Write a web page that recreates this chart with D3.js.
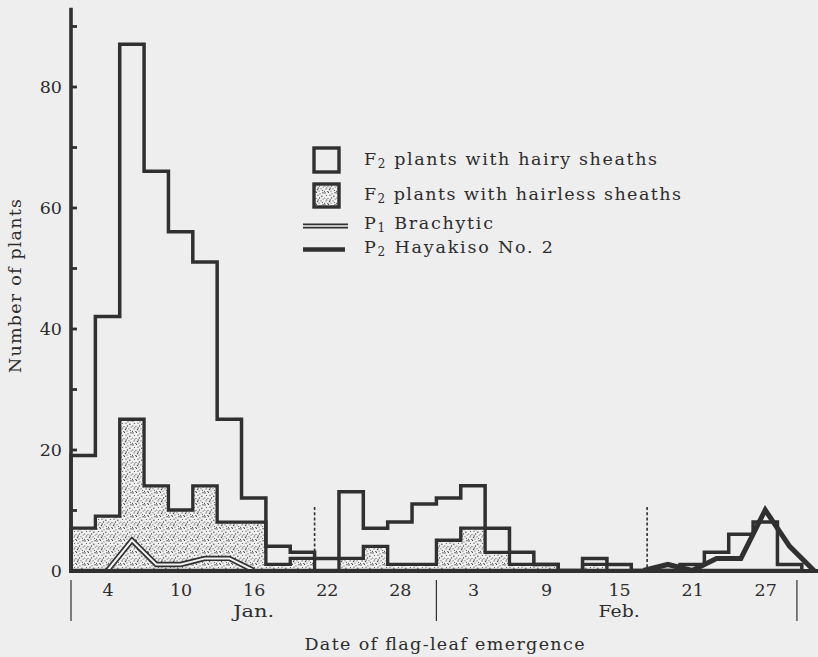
<!DOCTYPE html>
<html><head><meta charset="utf-8">
<script src="https://cdn.jsdelivr.net/npm/d3@7/dist/d3.min.js"></script>
<style>
body{margin:0;background:#eeeeee;}
svg{display:block;font-family:"DejaVu Serif",serif;}
</style>
</head><body>
<svg id="chart" width="818" height="657"></svg>
<script>
// ---------- data ----------
// two-day bins; value = start day counted from Jan 1 (= day 1)
const binStartDays = [1,3,5,7,9,11,13,15,17,19,21,23,25,27,29,31,33,35,37,39,41,43,45,47,49,51,53,55,57,59];
const binWidthDays = 2;
const hairyCounts    = [19,42,87,66,56,51,25,12,4,3,2,13,7,8,11,12,14,7,3,1,0,2,1,0,0,1,3,6,8,1];
const hairlessCounts = [7,9,25,14,10,14,8,8,1,2,0,2,4,1,1,5,7,3,1,1,0,1,0,0,0,0,0,0,0,0];
const p1Days   = [4,6,8,10,12,14,16];
const p1Counts = [0,5,1,1,2,2,0];
const p2Days   = [48,50,52,54,56,58,60,62];
const p2Counts = [0,1,0,2,2,10,4,0];
const tickDays   = [4,10,16,22,28,34,40,46,52,58];
const tickLabels = ["4","10","16","22","28","3","9","15","21","27"];
const monthLabels = ["Jan.","Feb."];
const monthLabelDays = [16,46];
const monthBoundaryDays = [1,31,60.6];
const dashedDays = [21,48.3];
const dashedTop = 10.5;
const yTickValues = [0,10,20,30,40,50,60,70,80,90];
const yLabelValues = [0,20,40,60,80];
const legendLabels = [
  {main:"F", sub:"2", rest:" plants with hairy sheaths", len:293},
  {main:"F", sub:"2", rest:" plants with hairless sheaths", len:317},
  {main:"P", sub:"1", rest:" Brachytic", len:129},
  {main:"P", sub:"2", rest:" Hayakiso No. 2", len:189}
];
const xTitle = "Date of flag-leaf emergence";
const yTitle = "Number of plants";

// ---------- setup ----------
const ink = "#303030", txt = "#2c2c2c", bg = "#eeeeee";
const svg = d3.select("#chart");
svg.append("rect").attr("width",818).attr("height",657).attr("fill",bg);

const x = d3.scaleLinear().domain([1,61]).range([71,801.8]);
const y = d3.scaleLinear().domain([0,90]).range([570.5,26]);

// stipple pattern
const defs = svg.append("defs");
const pat = defs.append("pattern").attr("id","stip").attr("patternUnits","userSpaceOnUse")
  .attr("width",12).attr("height",12);
pat.append("rect").attr("width",12).attr("height",12).attr("fill","#f0f0f0");
const dots = [[1,1],[4.5,0.5],[8,1.8],[11,0.8],[2.5,3.5],[6,3.2],[9.8,4.2],[0.8,6],[4,6.5],[7.5,6],[11.2,7],
              [2,9],[5.5,9.4],[9,8.8],[0.5,11.3],[3.8,11.8],[7,11],[10.5,10.5],[6.2,8],[2.8,7.8]];
dots.forEach((p,i)=>pat.append("circle").attr("cx",p[0]).attr("cy",p[1]).attr("r",i%3===0?0.75:0.6).attr("fill","#4a4a4a"));

function stepPoints(vals){
  const pts=[[binStartDays[0],0]];
  vals.forEach((v,i)=>{pts.push([binStartDays[i],v]);pts.push([binStartDays[i]+binWidthDays,v]);});
  pts.push([binStartDays[binStartDays.length-1]+binWidthDays,0]);
  return pts;
}
const line = d3.line().x(d=>x(d[0])).y(d=>y(d[1]));

// hairless (stippled)
svg.append("path").attr("d",line(stepPoints(hairlessCounts))+"Z")
  .attr("fill","url(#stip)").attr("stroke",ink).attr("stroke-width",3.3).attr("stroke-linejoin","miter");
// hairy outline
svg.append("path").attr("d",line(stepPoints(hairyCounts)))
  .attr("fill","none").attr("stroke",ink).attr("stroke-width",3.5).attr("stroke-linejoin","miter");

// P1 double line
const p1 = p1Days.map((d,i)=>[d,p1Counts[i]]);
svg.append("path").attr("d",line(p1)).attr("fill","none").attr("stroke",ink).attr("stroke-width",5.4);
svg.append("path").attr("d",line(p1)).attr("fill","none").attr("stroke","#f4f4f4").attr("stroke-width",2);

// P2 thick line
const p2 = p2Days.map((d,i)=>[d,p2Counts[i]]);
svg.append("path").attr("d",line(p2)).attr("fill","none").attr("stroke",ink).attr("stroke-width",5).attr("stroke-linejoin","miter");

// dashed lines
svg.selectAll(".dash").data(dashedDays).enter().append("line")
  .attr("x1",d=>x(d)).attr("x2",d=>x(d)).attr("y1",y(dashedTop)).attr("y2",y(0))
  .attr("stroke",ink).attr("stroke-width",1.6).attr("stroke-dasharray","3,2.2");

// y axis
const yAxis = d3.axisLeft(y).tickValues(yTickValues).tickSize(-6).tickSizeOuter(0).tickPadding(9)
  .tickFormat(d=>yLabelValues.includes(d)?d:"");
const gy = svg.append("g").attr("transform","translate(71,0)").call(yAxis);
gy.select(".domain").remove();
gy.selectAll(".tick line").attr("stroke",ink).attr("stroke-width",2.8);
gy.selectAll(".tick text").attr("x",-9).attr("fill",txt).attr("font-size","17.5px").attr("font-family","DejaVu Serif").attr("dy","0.36em");
svg.append("line").attr("x1",71).attr("x2",71).attr("y1",y(93)).attr("y2",y(0)+2)
  .attr("stroke",ink).attr("stroke-width",3.6);

// x axis
const xAxis = d3.axisBottom(x).tickValues(tickDays).tickSize(0).tickPadding(13.5)
  .tickFormat((d,i)=>tickLabels[i]);
const gx = svg.append("g").attr("transform",`translate(0,${y(0)})`).call(xAxis);
gx.select(".domain").remove();
gx.selectAll(".tick text").attr("fill",txt).attr("font-size","17.5px").attr("font-family","DejaVu Serif");
svg.append("line").attr("x1",69).attr("x2",818).attr("y1",y(0)+0.5).attr("y2",y(0)+0.5)
  .attr("stroke",ink).attr("stroke-width",4);

// month boundaries and labels
svg.selectAll(".mb").data(monthBoundaryDays).enter().append("line")
  .attr("x1",d=>x(d)).attr("x2",d=>x(d)).attr("y1",580).attr("y2",621)
  .attr("stroke",ink).attr("stroke-width",1.2);
svg.selectAll(".ml").data(monthLabels).enter().append("text")
  .attr("x",(d,i)=>x(monthLabelDays[i])).attr("y",617).attr("text-anchor","middle")
  .attr("font-size","17.5px").attr("fill",txt).attr("textLength",41).attr("lengthAdjust","spacingAndGlyphs").text(d=>d);

// titles
svg.append("text").attr("x",444.5).attr("y",650).attr("text-anchor","middle").attr("font-size","17.5px")
  .attr("fill",txt).attr("textLength",280).attr("lengthAdjust","spacing").text(xTitle);
svg.append("text").attr("transform","translate(20.5,286) rotate(-90)").attr("text-anchor","middle")
  .attr("font-size","17.5px").attr("fill",txt).attr("textLength",174).attr("lengthAdjust","spacing").text(yTitle);

// legend
const legRows = [165,200,228.5,252.5];
const lg = svg.append("g");
lg.append("rect").attr("x",314).attr("y",148).attr("width",25).attr("height",24)
  .attr("fill",bg).attr("stroke",ink).attr("stroke-width",3.4);
lg.append("rect").attr("x",314).attr("y",184).attr("width",25).attr("height",23)
  .attr("fill","url(#stip)").attr("stroke",ink).attr("stroke-width",3.4);
lg.append("line").attr("x1",303).attr("x2",348).attr("y1",226).attr("y2",226).attr("stroke",ink).attr("stroke-width",4.8);
lg.append("line").attr("x1",303).attr("x2",348).attr("y1",226).attr("y2",226).attr("stroke","#f4f4f4").attr("stroke-width",1.7);
lg.append("line").attr("x1",303).attr("x2",345).attr("y1",249.5).attr("y2",249.5).attr("stroke",ink).attr("stroke-width",4.5);
legendLabels.forEach((L,i)=>{
  const t = lg.append("text").attr("x",364).attr("y",legRows[i]).attr("font-size","17.5px").attr("fill",txt)
    .attr("textLength",L.len).attr("lengthAdjust","spacing");
  t.append("tspan").text(L.main);
  t.append("tspan").attr("font-size","12px").attr("dy",3).text(L.sub);
  t.append("tspan").attr("dy",-3).text(L.rest);
});
</script>
</body></html>
